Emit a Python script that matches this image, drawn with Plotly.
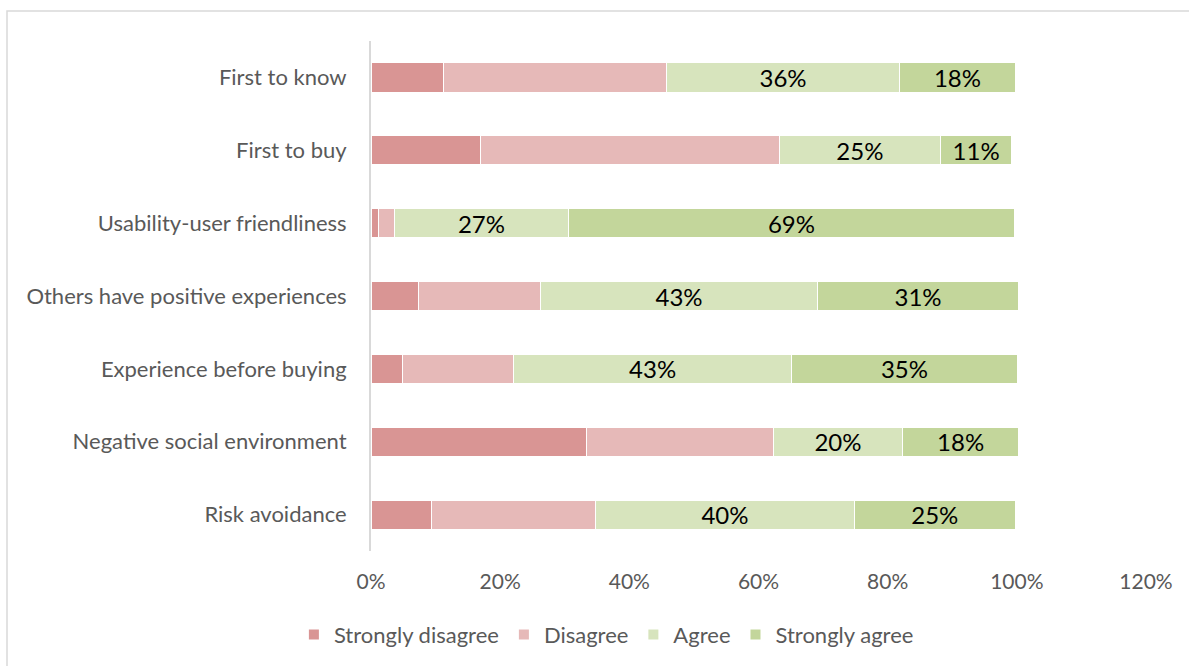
import plotly.graph_objects as go

categories = [
    "First to know",
    "First to buy",
    "Usability-user friendliness",
    "Others have positive experiences",
    "Experience before buying",
    "Negative social environment",
    "Risk avoidance",
]
strongly_disagree = [11.2, 16.9, 1.1, 7.3, 4.8, 33.4, 9.4]
disagree = [34.6, 46.3, 2.5, 18.9, 17.3, 28.9, 25.4]
agree = [36, 25, 27, 43, 43, 20, 40]
strongly_agree = [18, 11, 69, 31, 35, 18, 25]
x_ticks = [0, 20, 40, 60, 80, 100, 120]
x_tick_labels = ["0%", "20%", "40%", "60%", "80%", "100%", "120%"]

series = [
    ("Strongly disagree", strongly_disagree, "#D99594", False),
    ("Disagree", disagree, "#E6B9B8", False),
    ("Agree", agree, "#D7E4BD", True),
    ("Strongly agree", strongly_agree, "#C3D69B", True),
]

font_family = "Lato, 'Open Sans', sans-serif"

fig = go.Figure()
for name, vals, color, labelled in series:
    fig.add_trace(go.Bar(
        name=name,
        y=categories,
        x=vals,
        orientation="h",
        marker=dict(color=color, line=dict(color="white", width=1)),
        text=[f"{v:.0f}%" for v in vals] if labelled else None,
        textposition="inside" if labelled else "none",
        insidetextanchor="middle",
        constraintext="none",
        textfont=dict(color="black", size=24, family=font_family),
        hoverinfo="x+y+name",
    ))

fig.update_layout(
    barmode="stack",
    bargap=0.6,
    width=1189,
    height=666,
    margin=dict(l=371, r=43, t=41, b=115),
    paper_bgcolor="white",
    plot_bgcolor="white",
    font=dict(family=font_family, color="#595959", size=22),
    uniformtext=dict(mode=False),
    legend=dict(
        orientation="h",
        xref="container", yref="container",
        x=0.51, y=0.047, xanchor="center", yanchor="middle",
        font=dict(size=22, color="#595959"),
        traceorder="normal",
        itemsizing="constant",
        itemwidth=30,
    ),
    xaxis=dict(
        range=[0, 120],
        tickvals=x_ticks,
        ticktext=x_tick_labels,
        showgrid=False,
        zeroline=False,
        showline=False,
        ticks="",
        ticklabelstandoff=16,
        tickfont=dict(size=21, color="#595959"),
        fixedrange=True,
    ),
    yaxis=dict(
        categoryorder="array",
        categoryarray=categories,
        autorange="reversed",
        showgrid=False,
        showline=True,
        linecolor="#D9D9D9",
        linewidth=2,
        ticks="",
        ticklabelstandoff=18,
        tickfont=dict(size=22, color="#595959"),
        fixedrange=True,
    ),
    shapes=[
        dict(type="rect", xref="paper", yref="paper",
             x0=-364 / 775, x1=1 + 60 / 775, y0=-1, y1=1 + 30 / 510,
             line=dict(color="#D9D9D9", width=1.5), fillcolor="rgba(0,0,0,0)",
             layer="below"),
    ],
)

fig.write_html("out.html")
